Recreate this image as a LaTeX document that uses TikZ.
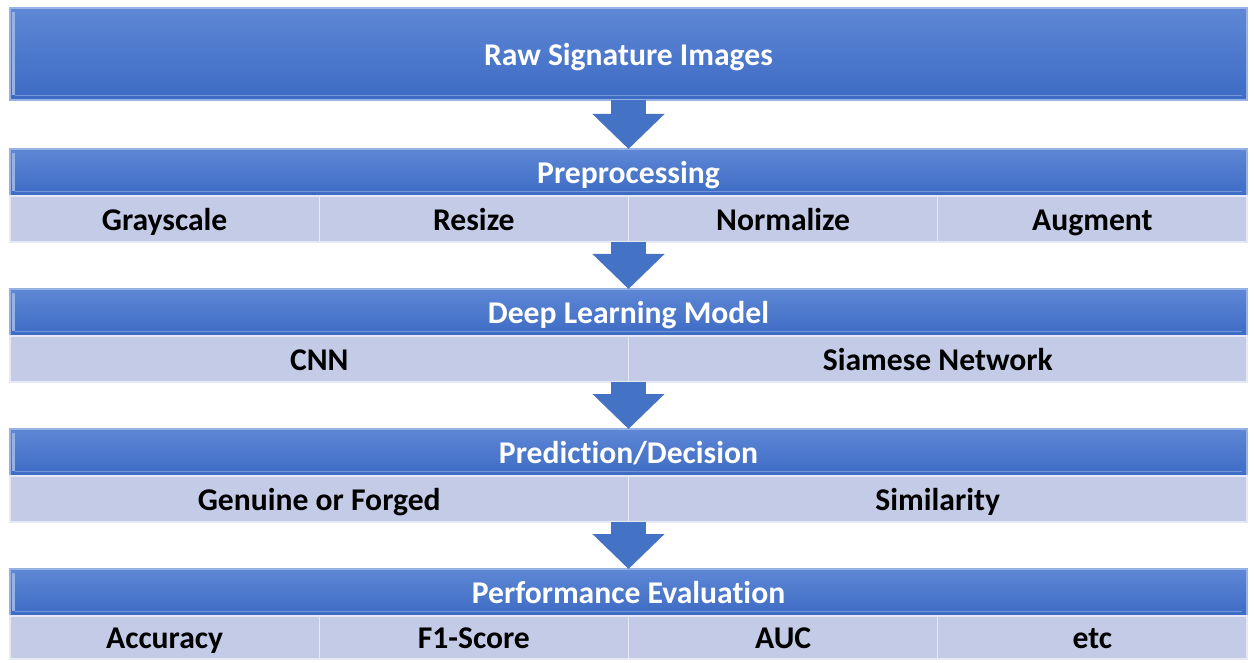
\documentclass[tikz,border=0pt]{standalone}
\usepackage{fontspec}
\setmainfont{Carlito}[Ligatures=NoCommon, Contextuals=NoAlternate]
\usetikzlibrary{positioning,arrows.meta}
\definecolor{headblue}{RGB}{68,114,196}
\definecolor{headtop}{RGB}{94,135,213}
\definecolor{headbot}{RGB}{61,107,196}
\definecolor{headedge}{RGB}{150,178,228}
\definecolor{subfill}{RGB}{196,203,230}
\definecolor{subedge}{RGB}{230,233,245}
\newcommand{\CX}{12.57}
\newcommand{\BOXW}{24.74cm}
\newcommand{\HALFW}{12.37cm}
\newcommand{\QUARTW}{6.185cm}
\newcommand{\TOPH}{1.84cm}
\newcommand{\HEADH}{0.94cm}
\newcommand{\SUBH}{0.92cm}
\newcommand{\GAP}{0.94cm}

\begin{document}
\begin{tikzpicture}
\tikzstyle{every node}=[font=\fontsize{18}{22}\selectfont\bfseries, inner sep=0pt, outer sep=0pt,
  text height=15pt, text depth=2pt]
\tikzset{
  headbox/.style={top color=headtop, bottom color=headbot, draw=headedge, line width=0.6pt,
    minimum width=\BOXW, minimum height=\HEADH, text=white,
    path picture={
      \draw[headedge, line width=1.2pt]
        ([xshift=2pt,yshift=3pt]path picture bounding box.south west) -- ([xshift=2pt,yshift=-2pt]path picture bounding box.north west);
      \draw[headedge!60!headbot, line width=0.8pt]
        ([xshift=3pt,yshift=2.5pt]path picture bounding box.south west) -- ([xshift=-3pt,yshift=2.5pt]path picture bounding box.south east);
    }},
  subbox/.style={fill=subfill, draw=subedge, line width=0.8pt, minimum height=\SUBH, text=black},
  flowarrow/.style={draw=headblue, line width=0.7cm, -{Triangle[length=0.7cm,width=1.4cm]}}
}
\useasboundingbox (0,0) rectangle (25.08,13.24);

% Input
	\node[headbox, minimum height=\TOPH] (raw) at (\CX,12.16) {Raw Signature Images};

% Preprocessing
	\node[headbox, below=0.98cm of raw] (pre) {Preprocessing};
	\node[subbox, minimum width=\QUARTW, below right=0pt and 0pt of pre.south west] (gray) {Grayscale};
	\node[subbox, minimum width=\QUARTW, right=0pt of gray] (resize) {Resize};
	\node[subbox, minimum width=\QUARTW, right=0pt of resize] (norm) {Normalize};
	\node[subbox, minimum width=\QUARTW, right=0pt of norm] (augment) {Augment};

% Model
	\node[headbox, below=\GAP of pre.south, yshift=-\SUBH, anchor=north] (model) {Deep Learning Model};
	\node[subbox, minimum width=\HALFW, below right=0pt and 0pt of model.south west] (cnn) {CNN};
	\node[subbox, minimum width=\HALFW, right=0pt of cnn] (siamese) {Siamese Network};

% Decision
	\node[headbox, below=\GAP of model.south, yshift=-\SUBH, anchor=north] (decision) {Prediction/Decision};
	\node[subbox, minimum width=\HALFW, below right=0pt and 0pt of decision.south west] (genuine) {Genuine or Forged};
	\node[subbox, minimum width=\HALFW, right=0pt of genuine] (similar) {Similarity};

% Evaluation
	\node[headbox, below=\GAP of decision.south, yshift=-\SUBH, anchor=north] (eval) {Performance Evaluation};
	\node[subbox, minimum width=\QUARTW, minimum height=0.86cm, below right=0pt and 0pt of eval.south west] (acc) {Accuracy};
	\node[subbox, minimum width=\QUARTW, minimum height=0.86cm, right=0pt of acc] (fone) {F1-Score};
	\node[subbox, minimum width=\QUARTW, minimum height=0.86cm, right=0pt of fone] (auc) {AUC};
	\node[subbox, minimum width=\QUARTW, minimum height=0.86cm, right=0pt of auc] (etc) {etc};

% Arrows
	\draw[flowarrow] (raw.south) -- (pre.north);
	\draw[flowarrow] (pre.south |- gray.south) -- (model.north);
	\draw[flowarrow] (model.south |- cnn.south) -- (decision.north);
	\draw[flowarrow] (decision.south |- genuine.south) -- (eval.north);

\end{tikzpicture}
\end{document}
